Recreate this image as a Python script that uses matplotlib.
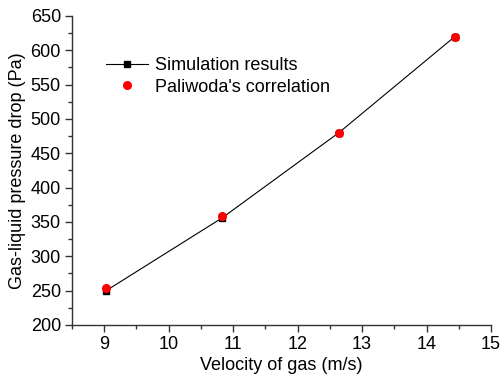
import matplotlib
matplotlib.use("Agg")
import matplotlib.pyplot as plt
from matplotlib.ticker import MultipleLocator

# Data
velocity = [9.03, 10.83, 12.64, 14.44]
sim_drop = [250, 356, 480, 620]
paliwoda_drop = [254, 359, 480, 620]

plt.rcParams['font.family'] = ['Liberation Sans', 'DejaVu Sans']

fig = plt.figure(figsize=(5.0, 3.79), dpi=100)
ax = fig.add_axes([0.144, 0.1425, 0.838, 0.8155])

ax.plot(velocity, sim_drop, '-', color='black', lw=0.8,
        marker='s', markersize=5, label='Simulation results')
ax.plot(velocity, paliwoda_drop, 'o', color='red', markersize=5.5,
        linestyle='none', label="Paliwoda's correlation")

ax.set_xlim(8.5, 15)
ax.set_ylim(200, 650)
ax.xaxis.set_major_locator(MultipleLocator(1))
ax.xaxis.set_minor_locator(MultipleLocator(0.5))
ax.yaxis.set_major_locator(MultipleLocator(50))
ax.yaxis.set_minor_locator(MultipleLocator(25))

for side in ['top', 'right']:
    ax.spines[side].set_visible(False)
for side in ['left', 'bottom']:
    ax.spines[side].set_color('#333333')
    ax.spines[side].set_linewidth(1.0)

ax.tick_params(which='major', direction='out', length=5, width=1, labelsize=13, colors='#333333', labelcolor='black', pad=3)
ax.tick_params(which='minor', direction='out', length=3, width=1, colors='#333333')

ax.set_xlabel('Velocity of gas (m/s)', fontsize=13, labelpad=3)
ax.set_ylabel('Gas-liquid pressure drop (Pa)', fontsize=13, labelpad=3)

ax.legend(loc='upper left', bbox_to_anchor=(0.065, 0.89), frameon=False,
          fontsize=13, handlelength=2.3, handletextpad=0.4, labelspacing=0.25,
          borderaxespad=0)

fig.savefig('out.png', dpi=100)
